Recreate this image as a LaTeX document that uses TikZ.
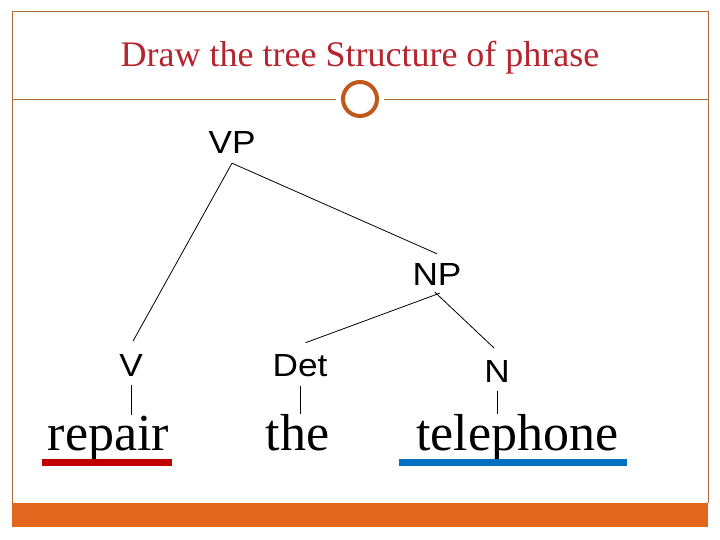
\documentclass[tikz,border=0pt]{standalone}
\usepackage{fontspec}
\setmainfont{Liberation Serif}
\newfontfamily\catfont[FakeStretch=1.1]{Liberation Sans}
\usetikzlibrary{calc}
\definecolor{framebrown}{RGB}{181,106,60}
\definecolor{ringbrown}{RGB}{192,88,26}
\definecolor{titlered}{RGB}{181,37,47}
\definecolor{barorange}{RGB}{227,102,31}
\definecolor{verbred}{RGB}{192,0,0}
\definecolor{nounblue}{RGB}{0,112,192}
\tikzset{
	cat/.style={font=\catfont\fontsize{32}{32}\selectfont, inner sep=9pt, anchor=base},
	word/.style={font=\fontsize{52}{52}\selectfont, inner sep=0pt, anchor=base},
	branch/.style={line width=0.8pt, color=black},
}

\begin{document}
\begin{tikzpicture}[x=1pt, y=-1pt]
			%%%%% START %%%%%
			
			\useasboundingbox (0, 0) rectangle (720, 540);
			\fill[white] (0, 0) rectangle (720, 540);
			
			\draw[line width=1pt, color=framebrown] (12, 503) -- (12, 12) -- (708, 12) -- (708, 503);
			\fill[barorange] (12, 503) rectangle (708, 527);
			
			\node[font=\fontsize{36}{36}\selectfont, color=titlered, anchor=base] (title) at (360, 67) {Draw the tree Structure of phrase};
			
			\draw[line width=1pt, color=framebrown] (12, 100) -- (336, 100);
			\draw[line width=1pt, color=framebrown] (384, 100) -- (708, 100);
			\draw[line width=4pt, color=ringbrown] (360, 99) circle (17pt);
			
			\node[cat] (vp) at (232, 154) {VP};
			\node[cat] (np) at (437, 285) {NP};
			\node[cat] (v) at (131, 376) {V};
			\node[cat] (det) at (300, 376) {Det};
			\node[cat] (n) at (497, 382) {N};
			
			\node[word] (repair) at (108.5, 450) {repair};
			\node[word] (the) at (297.5, 450) {the};
			\node[word] (telephone) at (517.5, 450) {telephone};
			
			\draw[branch, shorten >=4pt] (vp.south) -- (v.north);
			\draw[branch] (vp.south) -- (np.north);
			\draw[branch, shorten <=-3pt, shorten >=6pt] (np.south) -- (det.north);
			\draw[branch, shorten <=-3pt, shorten >=4pt] (np.south) -- (n.north);
			
			\draw[branch] (v.south) -- (v.south |- repair.north);
			\draw[branch] (det.south) -- (det.south |- the.north);
			\draw[branch] (n.south) -- (n.south |- telephone.north);
			
			\draw[line width=7pt, color=verbred] ([xshift=-6pt, yshift=-12pt]repair.base west) -- ([xshift=3pt, yshift=-12pt]repair.base east);
			\draw[line width=7pt, color=nounblue] ([xshift=-17pt, yshift=-12pt]telephone.base west) -- ([xshift=8pt, yshift=-12pt]telephone.base east);
			
			%%%%% END %%%%%
\end{tikzpicture}
\end{document}
